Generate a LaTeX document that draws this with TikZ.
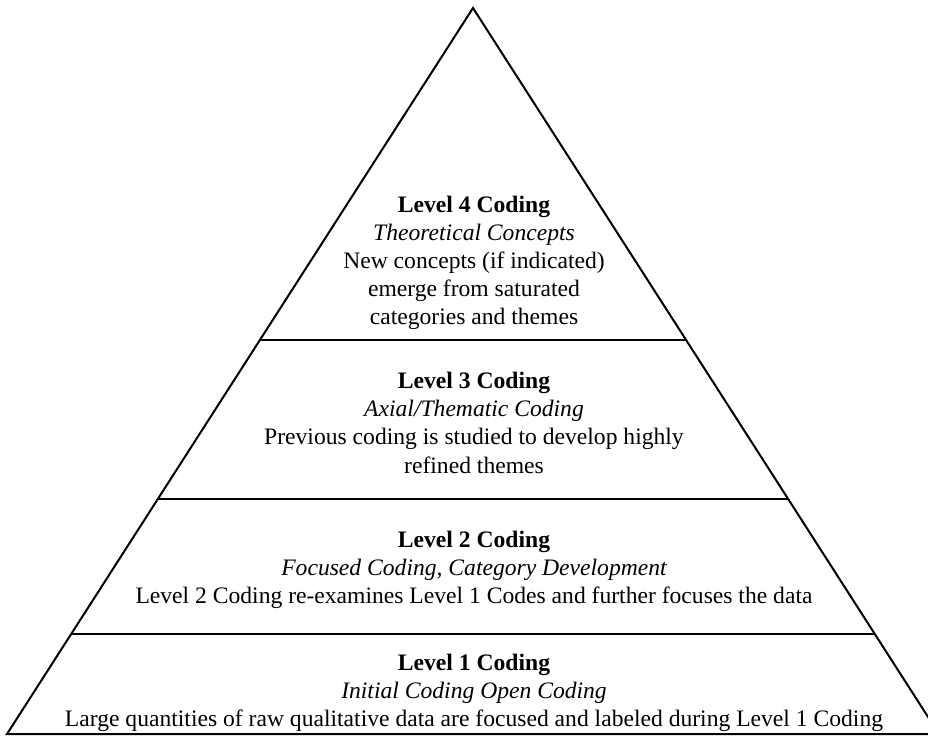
\documentclass[tikz,border=0pt]{standalone}
\usepackage{fontspec}
\setmainfont{Liberation Serif}
\begin{document}
\begin{tikzpicture}[x=0.5pt,y=-0.5pt,
  edge/.style={line width=1pt,line join=miter},
  txt/.style={anchor=base,inner sep=0pt,font=\fontsize{11.8pt}{14pt}\selectfont},
  head/.style={txt,font=\fontsize{11.8pt}{14pt}\selectfont\bfseries},
  sub/.style={txt,font=\fontsize{11.8pt}{14pt}\selectfont\itshape}]
\useasboundingbox (0,0) rectangle (928,736);
\clip (0,0) rectangle (928,736);
% pyramid outline
\coordinate (apex) at (473,8);
\coordinate (bl) at (7,734);
\coordinate (br) at (939,734);
\draw[edge] (bl) -- (apex) -- (br) -- cycle;
% tier dividers (x computed from the side slopes)
\draw[edge] (260,340) -- (686,340);
\draw[edge] (157,499) -- (789,499);
\draw[edge] (71,634) -- (875,634);
% Level 4
\node[head] (l4a) at (474,212) {Level 4 Coding};
\node[sub]  (l4b) at (474,240) {Theoretical Concepts};
\node[txt]  (l4c) at (474,268) {New concepts (if indicated)};
\node[txt]  (l4d) at (474,296) {emerge from saturated};
\node[txt]  (l4e) at (474,324) {categories and themes};
% Level 3
\node[head] (l3a) at (474,388) {Level 3 Coding};
\node[sub]  (l3b) at (474,416) {Axial/Thematic Coding};
\node[txt]  (l3c) at (474,444) {Previous coding is studied to develop highly};
\node[txt]  (l3d) at (474,473) {refined themes};
% Level 2
\node[head] (l2a) at (474,547) {Level 2 Coding};
\node[sub]  (l2b) at (474,575) {Focused Coding, Category Development};
\node[txt]  (l2c) at (474,603) {Level 2 Coding re-examines Level 1 Codes and further focuses the data};
% Level 1
\node[head] (l1a) at (474,670) {Level 1 Coding};
\node[sub]  (l1b) at (474,698) {Initial Coding Open Coding};
\node[txt]  (l1c) at (474,726) {Large quantities of raw qualitative data are focused and labeled during Level 1 Coding};
\end{tikzpicture}
\end{document}
